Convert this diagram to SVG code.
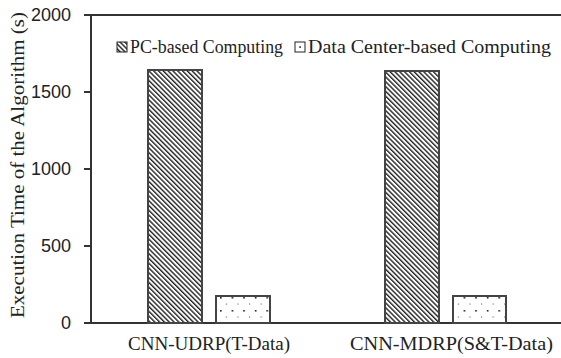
<svg xmlns="http://www.w3.org/2000/svg" width="561" height="358" viewBox="0 0 561 358">
<style>
.tick{font-family:"Liberation Sans",Arial,sans-serif;font-size:18px;fill:#222;text-anchor:end}
.ser{font-family:"Liberation Serif","Times New Roman",serif;font-size:19.5px;fill:#222}
.ax{stroke:#333;stroke-width:2;fill:none}
.bar{stroke:#444;stroke-width:2}
</style>
<defs>
<pattern id="hatch" patternUnits="userSpaceOnUse" width="3.4" height="3.4" patternTransform="rotate(-45)">
<rect width="3.4" height="3.4" fill="#fff"/>
<line x1="0.7" y1="0" x2="0.7" y2="3.4" stroke="#222" stroke-width="1.4"/>
</pattern>
<pattern id="dots" patternUnits="userSpaceOnUse" x="220" y="297" width="11.6" height="13">
<rect width="11.6" height="13" fill="#fff"/>
<rect x="0" y="0" width="1.6" height="1.6" fill="#222"/>
<rect x="5.8" y="6.5" width="1.1" height="1.1" fill="#666"/>
</pattern>
</defs>
<rect width="561" height="358" fill="#fff"/>
<g id="axes">
<line class="ax" x1="84" y1="15" x2="561" y2="15"/>
<line class="ax" x1="91" y1="15" x2="91" y2="323"/>
<line class="ax" x1="84" y1="323" x2="561" y2="323"/>
<line class="ax" x1="84" y1="92" x2="91" y2="92"/>
<line class="ax" x1="84" y1="169" x2="91" y2="169"/>
<line class="ax" x1="84" y1="246" x2="91" y2="246"/>
<text class="tick" x="71" y="21">2000</text>
<text class="tick" x="71" y="98">1500</text>
<text class="tick" x="71" y="175">1000</text>
<text class="tick" x="71" y="252">500</text>
<text class="tick" x="71" y="329">0</text>
<text class="ser" transform="translate(24,318) rotate(-90)" font-size="20" textLength="306" lengthAdjust="spacingAndGlyphs">Execution Time of the Algorithm (s)</text>
</g>
<g id="bars">
<rect class="bar" x="148" y="70" width="54" height="253" fill="url(#hatch)"/>
<rect class="bar" x="216" y="296" width="54" height="27" fill="url(#dots)"/>
<rect class="bar" x="385" y="71" width="54" height="252" fill="url(#hatch)"/>
<rect class="bar" x="453" y="296" width="53" height="27" fill="url(#dots)"/>
</g>
<g id="legend">
<rect x="117" y="42" width="10" height="10" fill="url(#hatch)" stroke="#222" stroke-width="1"/>
<text class="ser" x="130" y="53" textLength="153" lengthAdjust="spacingAndGlyphs">PC-based Computing</text>
<rect x="295" y="42" width="10" height="10" fill="#fff" stroke="#222" stroke-width="1"/>
<rect x="299.3" y="46.3" width="1.6" height="1.6" fill="#222"/>
<text class="ser" x="308" y="53" textLength="243" lengthAdjust="spacingAndGlyphs">Data Center-based Computing</text>
</g>
<g id="xlabels">
<text class="ser" x="128" y="350" textLength="162" lengthAdjust="spacingAndGlyphs">CNN-UDRP(T-Data)</text>
<text class="ser" x="350" y="350" textLength="203" lengthAdjust="spacingAndGlyphs">CNN-MDRP(S&amp;T-Data)</text>
</g>
</svg>
